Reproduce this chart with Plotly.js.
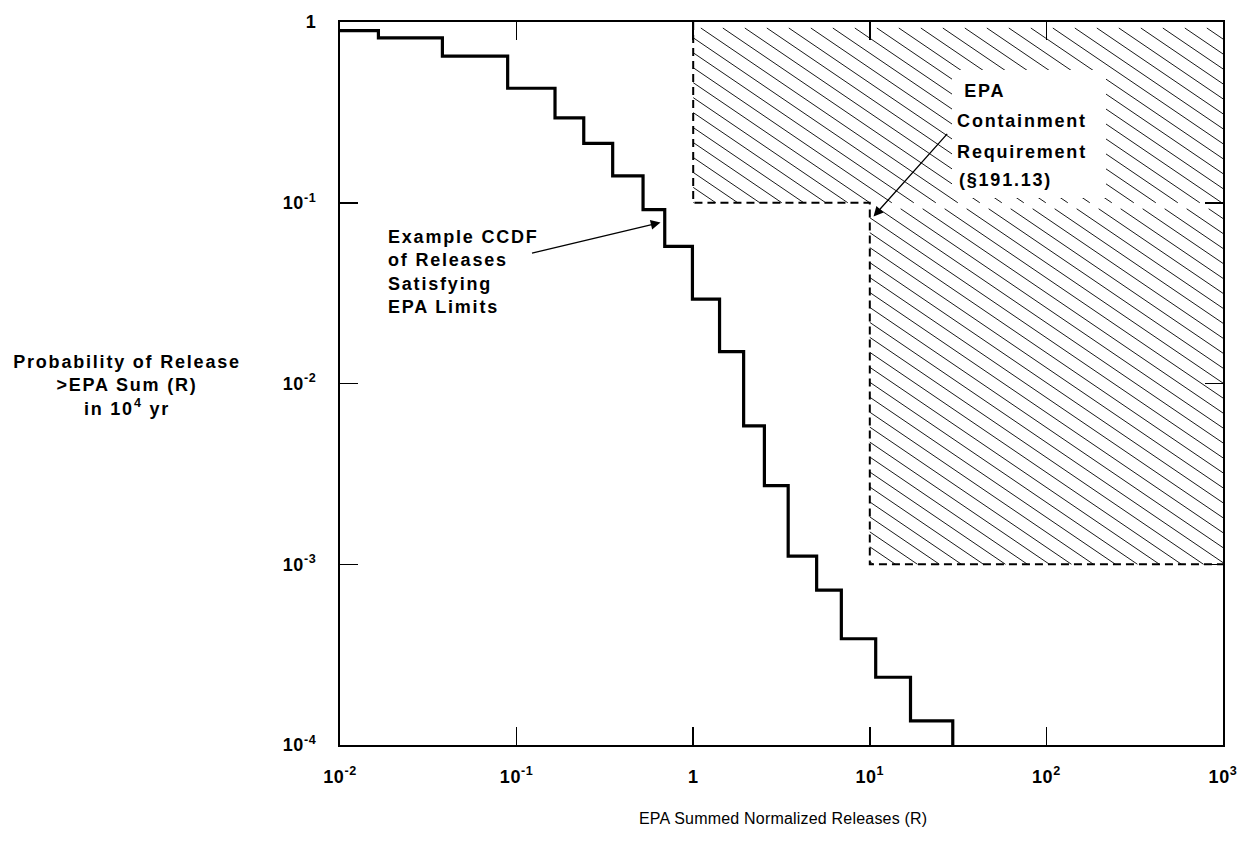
<!DOCTYPE html>
<html>
<head>
<meta charset="utf-8">
<script src="https://cdn.plot.ly/plotly-3.0.1.min.js"></script>
<style>
  html, body { margin: 0; padding: 0; background: #fff; }
  #chart { width: 1240px; height: 858px; }
  .main-svg text.annotation-text { letter-spacing: 1.8px; }
  .main-svg .xtick text, .main-svg .ytick text { letter-spacing: 0.6px; }
</style>
</head>
<body>
<div id="chart"></div>
<script>
// ---- Data ----
// Example CCDF of releases (step function: R at each step edge, probability level after it)
const stepR = [0.01, 0.0165, 0.038, 0.089, 0.165, 0.24, 0.35, 0.52, 0.69, 0.99, 1.41, 1.93, 2.53, 3.45, 5.0, 6.9, 10.8, 17, 29.5];
const stepP = [0.895, 0.816, 0.648, 0.43, 0.295, 0.213, 0.141, 0.0916, 0.0573, 0.0293, 0.015, 0.00583, 0.00272, 0.00111, 0.00072, 0.000387, 0.000237, 0.000136, 0.0001];

// EPA containment requirement boundary (§191.13)
const limitR = [1, 1, 10, 10, 1000];
const limitP = [1, 0.1, 0.1, 0.001, 0.001];

// Tick labels
const xTickVals = [0.01, 0.1, 1, 10, 100, 1000];
const xTickText = ['10<sup>-2</sup>', '10<sup>-1</sup>', '1', '10<sup>1</sup>', '10<sup>2</sup>', '10<sup>3</sup>'];
const yTickVals = [0.0001, 0.001, 0.01, 0.1, 1];
const yTickText = ['10<sup>-4</sup>', '10<sup>-3</sup>', '10<sup>-2</sup>', '10<sup>-1</sup>', '1'];

// ---- Geometry ----
const FIG_W = 1240, FIG_H = 858;
const M = {l: 340, r: 17, t: 22, b: 113};
const PW = FIG_W - M.l - M.r, PH = FIG_H - M.t - M.b;
const XR = [-2, 3], YR = [-4, 0];

const toPX = lx => (lx - XR[0]) / (XR[1] - XR[0]) * PW;
const toPY = ly => (YR[1] - ly) / (YR[1] - YR[0]) * PH;
const fromPX = X => Math.pow(10, XR[0] + X / PW * (XR[1] - XR[0]));
const fromPY = Y => Math.pow(10, YR[1] - Y / PH * (YR[1] - YR[0]));
const L = Math.log10;

// Hatch lines clipped to the two rectangles making up the requirement region
const rects = [
  {x0: limitR[1], x1: limitR[4], y0: limitP[1], y1: limitP[0]},
  {x0: limitR[3], x1: limitR[4], y0: limitP[3], y1: limitP[2]}
];
const SLOPE = 0.68, SPACING = 22;
const hx = [], hy = [];
rects.forEach(r => {
  const X0 = toPX(L(r.x0)), X1 = toPX(L(r.x1));
  const Ytop = toPY(L(r.y1)) + 6, Ybot = toPY(L(r.y0));
  const kMin = Math.floor((X0 - Ybot / SLOPE) / SPACING) - 1;
  const kMax = Math.ceil(X1 / SPACING) + 1;
  for (let k = kMin; k <= kMax; k++) {
    const c = k * SPACING;
    const xa = Math.max(X0, c + Ytop / SLOPE);
    const xb = Math.min(X1, c + Ybot / SLOPE);
    if (xb - xa > 0.5) {
      hx.push(fromPX(xa), fromPX(xb), null);
      hy.push(fromPY(SLOPE * (xa - c)), fromPY(SLOPE * (xb - c)), null);
    }
  }
});

const FONT = 'Liberation Sans, Arial, Helvetica, sans-serif';

const traces = [
  {x: hx, y: hy, mode: 'lines', line: {color: '#1a1a1a', width: 1}, hoverinfo: 'skip', connectgaps: false},
  {x: limitR, y: limitP, mode: 'lines', line: {color: '#000', width: 2, dash: '8px,5px'}},
  {x: stepR, y: stepP, mode: 'lines', line: {color: '#000', width: 3.2, shape: 'hv'}}
];

const axisCommon = {
  type: 'log', showgrid: false, zeroline: false,
  showline: true, linecolor: '#000', linewidth: 2, mirror: 'ticks',
  ticks: 'inside', ticklen: 18, tickwidth: 1.5, tickcolor: '#000',
  tickfont: {family: FONT, size: 18, color: '#000', weight: 'bold'},
  tickmode: 'array', ticklabeloverflow: 'allow'
};

const ann = (text, x, y, extra) => Object.assign({
  text, x, y, xref: 'paper', yref: 'paper', showarrow: false,
  xanchor: 'center', yanchor: 'middle',
  font: {family: FONT, size: 18, color: '#000', weight: 'bold'}
}, extra || {});

const py = y => 1 - (y - M.t) / PH;
const px = x => (x - M.l) / PW;

const layout = {
  width: FIG_W, height: FIG_H,
  margin: M,
  paper_bgcolor: '#fff', plot_bgcolor: '#fff',
  showlegend: false,
  xaxis: Object.assign({}, axisCommon, {range: XR, tickvals: xTickVals, ticktext: xTickText, ticklabelstandoff: 14}),
  yaxis: Object.assign({}, axisCommon, {range: YR, tickvals: yTickVals, ticktext: yTickText, ticklabelstandoff: 18}),
  shapes: [
    {type: 'rect', xref: 'paper', yref: 'paper', layer: 'above',
     x0: px(952), x1: px(1106), y0: py(198), y1: py(70),
     fillcolor: '#fff', line: {width: 0}}
  ],
  annotations: [
    ann('Probability of Release<br>&gt;EPA Sum (R)<br>in 10<sup>4</sup> yr', px(127), py(385), {align: 'center'}),
    ann('<span style="letter-spacing:0.2px">EPA Summed Normalized Releases (R)</span>', px(783), py(818),
        {font: {family: FONT, size: 16, color: '#000', weight: 'normal'}}),
    ann('Example CCDF<br>of Releases<br>Satisfying<br>EPA Limits', px(386), py(225), {xanchor: 'left', yanchor: 'top', align: 'left'}),
    ann('EPA', px(965), py(91), {xanchor: 'left'}),
    ann('Containment', px(965), py(121), {xanchor: 'left'}),
    ann('Requirement', px(965), py(152), {xanchor: 'left'}),
    ann('(§191.13)', px(965), py(180), {xanchor: 'left'}),
    {text: '', xref: 'x', yref: 'y', x: L(10.5), y: L(0.084), ax: 75, ay: -84,
     showarrow: true, arrowhead: 2, arrowsize: 1.5, arrowwidth: 1.3, arrowcolor: '#000', standoff: 0},
    {text: '', xref: 'x', yref: 'y', x: L(0.653), y: L(0.0777), ax: -130, ay: 31,
     showarrow: true, arrowhead: 2, arrowsize: 1.5, arrowwidth: 1.3, arrowcolor: '#000', standoff: 0}
  ]
};

Plotly.newPlot('chart', traces, layout, {displayModeBar: false, staticPlot: true});
</script>
</body>
</html>
